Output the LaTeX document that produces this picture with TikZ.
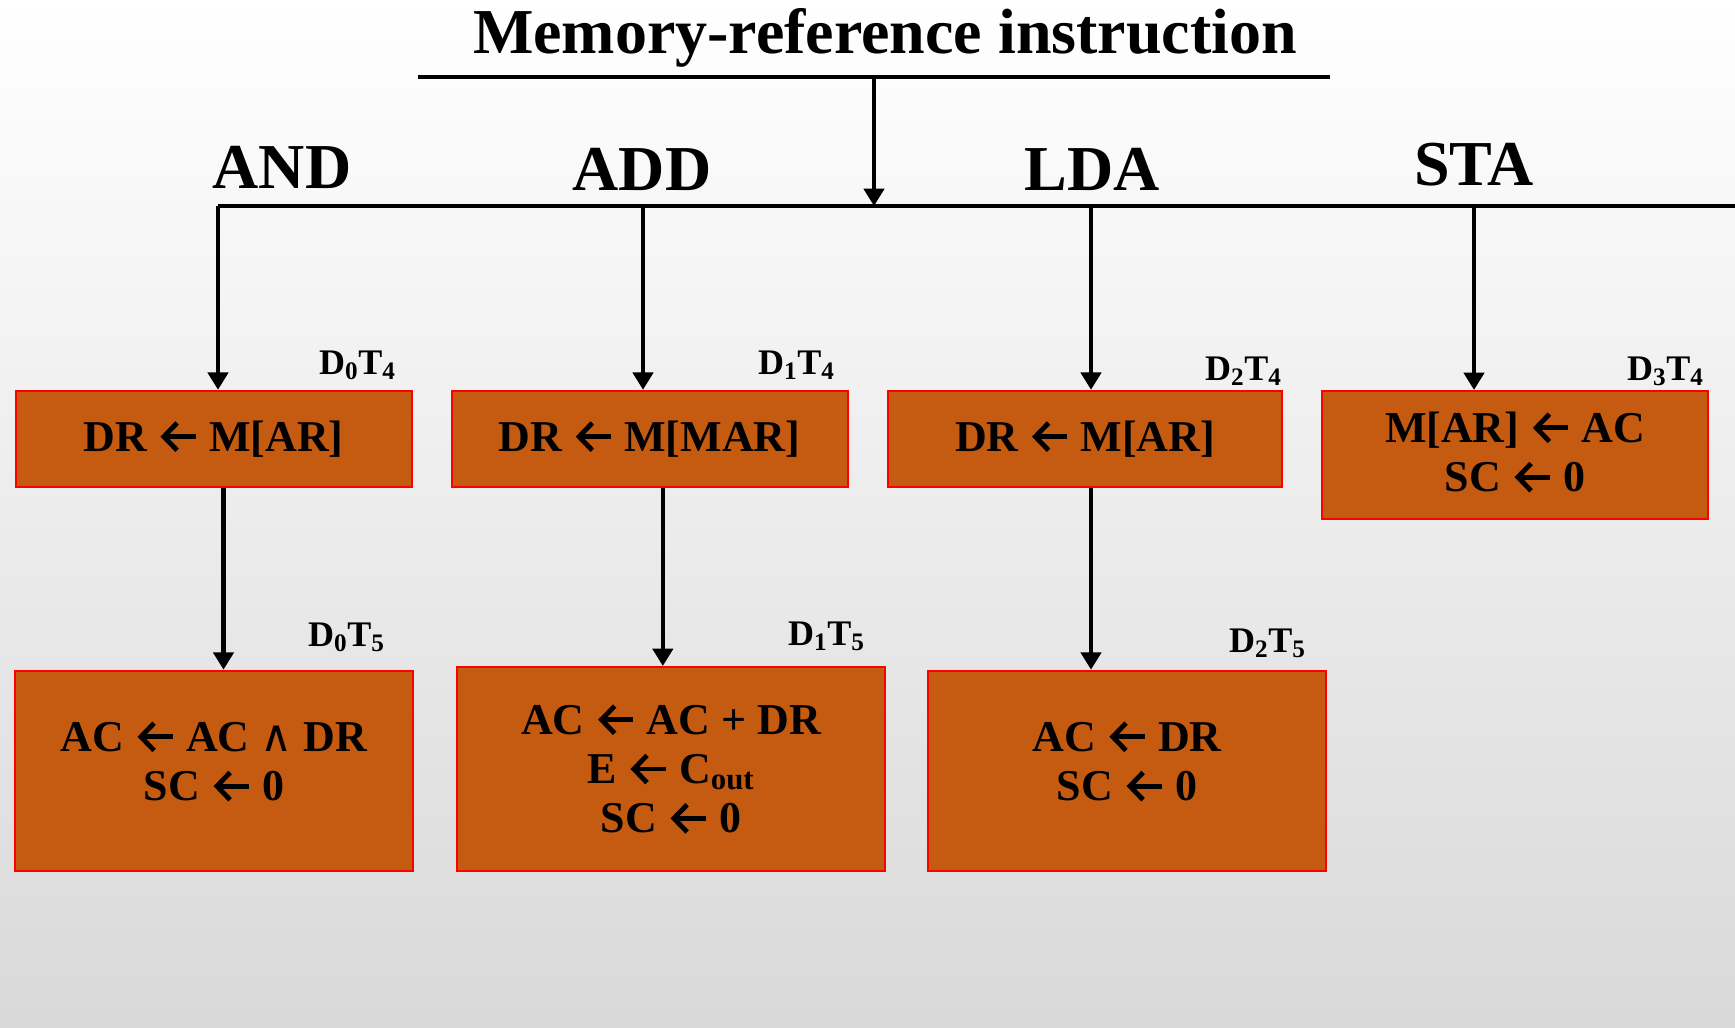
\documentclass[tikz,border=0pt]{standalone}
\usepackage{fontspec}
\setmainfont{Liberation Serif}
\newfontfamily\symfont{DejaVu Sans}
\usetikzlibrary{arrows.meta}

\definecolor{boxfill}{RGB}{197,90,17}
\definecolor{boxline}{RGB}{255,0,0}

% assignment arrow used inside the boxes
\newcommand{\getsto}{\tikz[baseline={(0,-0.33em)}]\draw[draw=black,line width=0.11em,-{Straight Barb[length=0.3em,width=0.62em]}] (0.8em,0) -- (0,0);}
\newcommand{\andop}{{\symfont\mdseries\char"2227}}

\tikzset{
  opbox/.style={draw=boxline, line width=1.5pt, fill=boxfill, align=center, inner sep=0pt,
    font=\fontsize{33}{37}\selectfont\bfseries},
  timing/.style={anchor=base east, inner sep=0pt, font=\fontsize{27}{30}\selectfont\bfseries},
  opname/.style={anchor=base, inner sep=0pt, font=\fontsize{48}{54}\selectfont\bfseries},
  flow/.style={line width=3.4pt, -{Triangle[length=13pt,width=15pt]}},
  bus/.style={line width=3.2pt}
}

\begin{document}
\begin{tikzpicture}[x=0.75pt,y=0.75pt,yscale=-1,xscale=1]
\useasboundingbox (0,0) rectangle (1735,1028);
%Background
\shade[top color=white, bottom color=gray!30] (0,0) rectangle (1735,1028);

% Text Node
\node[opname] (title) at (885,53) {Memory-reference instruction};
%Straight Lines
\coordinate (titleL) at (418,77);
\coordinate (titleR) at (1330,77);
\coordinate (hub) at (874,77);
\draw[bus] (titleL) -- (titleR);
%Straight Lines
\coordinate (busL) at (218,206);
\coordinate (busR) at (1735,206);
\draw[bus] (busL) -- (busR);
\draw[flow] (hub) -- (hub |- busL);

% Text Node
\node[opname] (andname) at (282,188) {AND};
\node[opname] (addname) at (642,190) {ADD};
\node[opname] (ldaname) at (1092,190) {LDA};
\node[opname] (staname) at (1474,185) {STA};

%Shape: Rectangle
\node[opbox, minimum width=297pt, minimum height=72pt] (andfetch) at (213.5,438.8) {DR \getsto{} M[AR]};
\node[opbox, minimum width=297pt, minimum height=72pt] (addfetch) at (649.5,438.8) {DR \getsto{} M[MAR]};
\node[opbox, minimum width=296pt, minimum height=72pt] (ldafetch) at (1085,438.8) {DR \getsto{} M[AR]};
\node[opbox, minimum width=289pt, minimum height=96pt, text depth=5pt] (stastore) at (1515,455) {M[AR] \getsto{} AC\\SC \getsto{} 0};
%Shape: Rectangle
\node[opbox, minimum width=298pt, minimum height=150pt, text depth=15pt] (andexec) at (214,770.7) {AC \getsto{} AC \andop{} DR\\SC \getsto{} 0};
\node[opbox, minimum width=321pt, minimum height=153pt] (addexec) at (671,769) {AC \getsto{} AC + DR\\E \getsto{} C\textsubscript{out}\\SC \getsto{} 0};
\node[opbox, minimum width=298pt, minimum height=150pt, text depth=15pt] (ldaexec) at (1127,770.7) {AC \getsto{} DR\\SC \getsto{} 0};

% Text Node
\node[timing] (t04) at (396,374) {D\textsubscript{0}T\textsubscript{4}};
\node[timing] (t14) at (835,374) {D\textsubscript{1}T\textsubscript{4}};
\node[timing] (t24) at (1282,380) {D\textsubscript{2}T\textsubscript{4}};
\node[timing] (t34) at (1704,380) {D\textsubscript{3}T\textsubscript{4}};
\node[timing] (t05) at (385,646) {D\textsubscript{0}T\textsubscript{5}};
\node[timing] (t15) at (865,645) {D\textsubscript{1}T\textsubscript{5}};
\node[timing] (t25) at (1306,652) {D\textsubscript{2}T\textsubscript{5}};

%Straight Lines
\coordinate (tapAND) at (218,206);
\coordinate (tapADD) at (643,206);
\coordinate (tapLDA) at (1091,206);
\coordinate (tapSTA) at (1474,206);
\draw[flow] (tapAND) -- (tapAND |- andfetch.north);
\draw[flow] (tapADD) -- (tapADD |- addfetch.north);
\draw[flow] (tapLDA) -- (tapLDA |- ldafetch.north);
\draw[flow] (tapSTA) -- (tapSTA |- stastore.north);
%Straight Lines
\draw[flow] ([xshift=7.5pt]andfetch.south) -- ([xshift=7.5pt]andfetch.south |- andexec.north);
\draw[flow] ([xshift=10pt]addfetch.south) -- ([xshift=10pt]addfetch.south |- addexec.north);
\draw[flow] ([xshift=4.5pt]ldafetch.south) -- ([xshift=4.5pt]ldafetch.south |- ldaexec.north);

\end{tikzpicture}
\end{document}
